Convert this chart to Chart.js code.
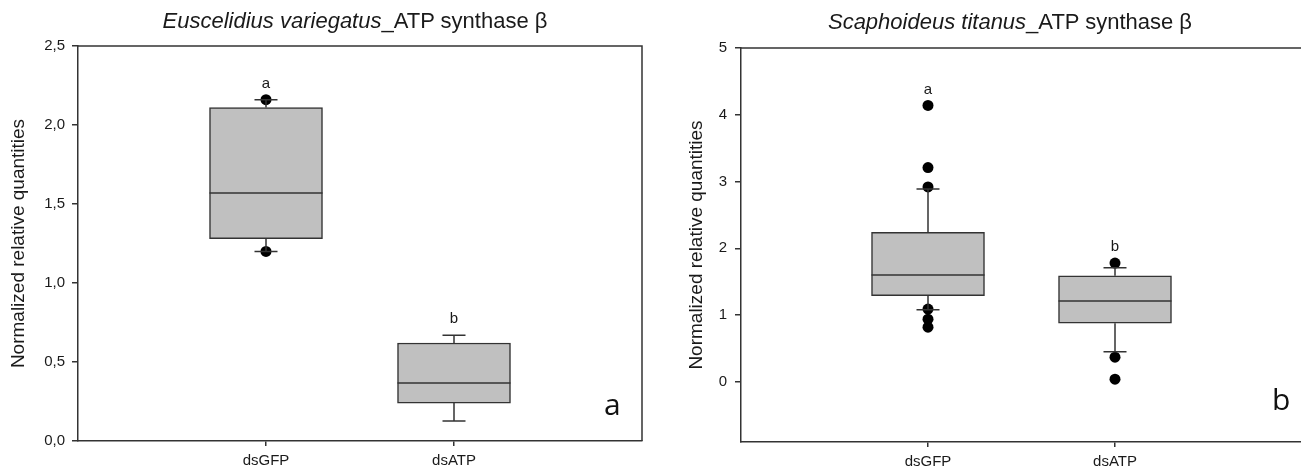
<!DOCTYPE html>
<html>
<head>
<meta charset="utf-8">
<script src="https://cdn.jsdelivr.net/npm/chart.js@4.4.1/dist/chart.umd.min.js"></script>
<style>
  html { margin: 0; padding: 0; background: #fff; overflow: hidden; width: 1301px; height: 472px; }
  body { margin: 0; padding: 0; width: 1340px; height: 472px; position: relative; font-family: 'Liberation Sans', Arial, sans-serif; }
  .panel { position: absolute; top: 0; height: 472px; }
  .title { position: absolute; font-size: 22px; line-height: 26px; color: #1a1a1a; white-space: nowrap; transform: translateX(-50%); }
  .tag { position: absolute; font-family: 'Open Sans', sans-serif; font-size: 30px; color: #111; line-height: 1; }
</style>
</head>
<body>
<div class="panel" style="left:0;width:650px"><canvas id="chartA" width="650" height="472" style="width:650px;height:472px"></canvas></div>
<div class="panel" style="left:650px;width:680px"><canvas id="chartB" width="680" height="472" style="width:680px;height:472px"></canvas></div>
<div class="title" style="left:355px;top:8px"><i>Euscelidius variegatus</i>_ATP synthase β</div>
<div class="title" style="left:1010px;top:9px"><i>Scaphoideus titanus</i>_ATP synthase β</div>
<div class="tag" style="left:604px;top:389px">a</div>
<div class="tag" style="left:1272px;top:384px">b</div>
<script>
const categories = ['dsGFP', 'dsATP'];

// panel a - Euscelidius variegatus
const evQ1 = [1.28, 0.24];
const evMedian = [1.57, 0.367];
const evQ3 = [2.11, 0.62];
const evLow = [1.20, 0.127];
const evHigh = [2.16, 0.67];
const evPoints = [[2.16, 1.20], []];
const evLetters = ['a', 'b'];
const evTicks = [0, 0.5, 1, 1.5, 2, 2.5];

// panel b - Scaphoideus titanus
const stQ1 = [1.29, 0.88];
const stMedian = [1.60, 1.21];
const stQ3 = [2.24, 1.59];
const stLow = [1.08, 0.45];
const stHigh = [2.89, 1.71];
const stPoints = [[4.14, 3.21, 2.92, 1.09, 0.94, 0.82], [1.78, 0.37, 0.04]];
const stLetters = ['a', 'b'];
const stTicks = [0, 1, 2, 3, 4, 5];

const ink = '#333';
const tickFont = { family: "'Liberation Sans', Arial, sans-serif", size: 15 };

// whiskers, caps, medians and letters, drawn from the scales
const boxParts = (g) => ({
  id: 'boxParts',
  afterDatasetDraw(chart, args) {
    if (args.index !== 0) return;
    const { ctx, scales: { x, y } } = chart;
    const bars = chart.getDatasetMeta(0).data;
    ctx.save();
    ctx.strokeStyle = ink;
    ctx.lineWidth = 1.5;
    g.median.forEach((m, i) => {
      const cx = x.getPixelForValue(i + 1);
      const half = bars[i].width / 2;
      const ends = [[g.q3[i], g.high[i]], [g.q1[i], g.low[i]]];
      ends.forEach(([from, to]) => {
        ctx.beginPath();
        ctx.moveTo(cx, y.getPixelForValue(from));
        ctx.lineTo(cx, y.getPixelForValue(to));
        ctx.moveTo(cx - 11.5, y.getPixelForValue(to));
        ctx.lineTo(cx + 11.5, y.getPixelForValue(to));
        ctx.stroke();
      });
      ctx.beginPath();
      ctx.moveTo(cx - half, y.getPixelForValue(m));
      ctx.lineTo(cx + half, y.getPixelForValue(m));
      ctx.stroke();
    });
    ctx.restore();
  },
  afterDraw(chart) {
    const { ctx, chartArea: a, scales: { x, y } } = chart;
    ctx.save();
    ctx.strokeStyle = ink;
    ctx.lineWidth = 1.5;
    ctx.beginPath();
    ctx.moveTo(a.left, a.top);
    ctx.lineTo(a.right, a.top);
    ctx.lineTo(a.right, a.bottom);
    ctx.stroke();
    ctx.fillStyle = '#1a1a1a';
    ctx.font = '15px ' + tickFont.family;
    ctx.textAlign = 'center';
    ctx.textBaseline = 'middle';
    g.letters.forEach((t, i) => {
      const top = Math.max(g.high[i], ...g.points[i]);
      ctx.fillText(t, x.getPixelForValue(i + 1), y.getPixelForValue(top) - 16);
    });
    ctx.restore();
  }
});

function makeChart(id, g, opt) {
  const boxes = categories.map((c, i) => ({ x: i + 1, y: [g.q1[i], g.q3[i]] }));
  const dots = [];
  g.points.forEach((list, i) => list.forEach(v => dots.push({ x: i + 1, y: v })));

  return new Chart(document.getElementById(id), {
    type: 'bar',
    data: {
      datasets: [{
        data: boxes,
        backgroundColor: '#c0c0c0',
        borderColor: ink,
        borderWidth: 1.5,
        borderSkipped: false,
        barThickness: 113
      }, {
        type: 'scatter',
        data: dots,
        pointRadius: 5.5,
        backgroundColor: '#000',
        borderWidth: 0
      }]
    },
    options: {
      responsive: false,
      animation: false,
      devicePixelRatio: 1,
      layout: { padding: { top: opt.top, right: opt.right, left: 0, bottom: 0 } },
      plugins: { legend: { display: false }, tooltip: { enabled: false } },
      scales: {
        x: {
          type: 'linear',
          min: 0,
          max: 3,
          offset: false,
          afterBuildTicks: s => { s.ticks = categories.map((c, i) => ({ value: i + 1 })); },
          afterFit: s => { s.height = opt.xHeight; },
          grid: { display: true, offset: false, drawOnChartArea: false, tickLength: 5, color: ink, lineWidth: 1.5 },
          border: { color: ink, width: 1.5 },
          ticks: { font: tickFont, color: '#1a1a1a', padding: 6, maxRotation: 0, callback: v => categories[v - 1] }
        },
        y: {
          min: opt.min,
          max: opt.max,
          afterBuildTicks: s => { s.ticks = g.ticks.map(v => ({ value: v })); },
          afterFit: s => { s.width = opt.yWidth; },
          grid: { display: true, drawOnChartArea: false, tickLength: 6, color: ink, lineWidth: 1.5 },
          border: { color: ink, width: 1.5 },
          ticks: { font: tickFont, color: '#1a1a1a', padding: opt.tickPad, callback: opt.fmt },
          title: {
            display: true,
            text: 'Normalized relative quantities',
            color: '#1a1a1a',
            font: { family: tickFont.family, size: 19 },
            padding: { top: opt.titlePad, bottom: 0 }
          }
        }
      }
    },
    plugins: [boxParts(g)]
  });
}

makeChart('chartA',
  { q1: evQ1, median: evMedian, q3: evQ3, low: evLow, high: evHigh, points: evPoints, letters: evLetters, ticks: evTicks },
  { min: 0, max: 2.5, top: 46, right: 8, xHeight: 31, yWidth: 78, tickPad: 7, titlePad: 7,
    fmt: v => v.toFixed(1).replace('.', ',') });

// right plot runs past the picture edge, as in the original
makeChart('chartB',
  { q1: stQ1, median: stMedian, q3: stQ3, low: stLow, high: stHigh, points: stPoints, letters: stLetters, ticks: stTicks },
  { min: -0.9, max: 5, top: 48, right: 28, xHeight: 30, yWidth: 91, tickPad: 8, titlePad: 35,
    fmt: v => String(v) });
</script>
</body>
</html>
